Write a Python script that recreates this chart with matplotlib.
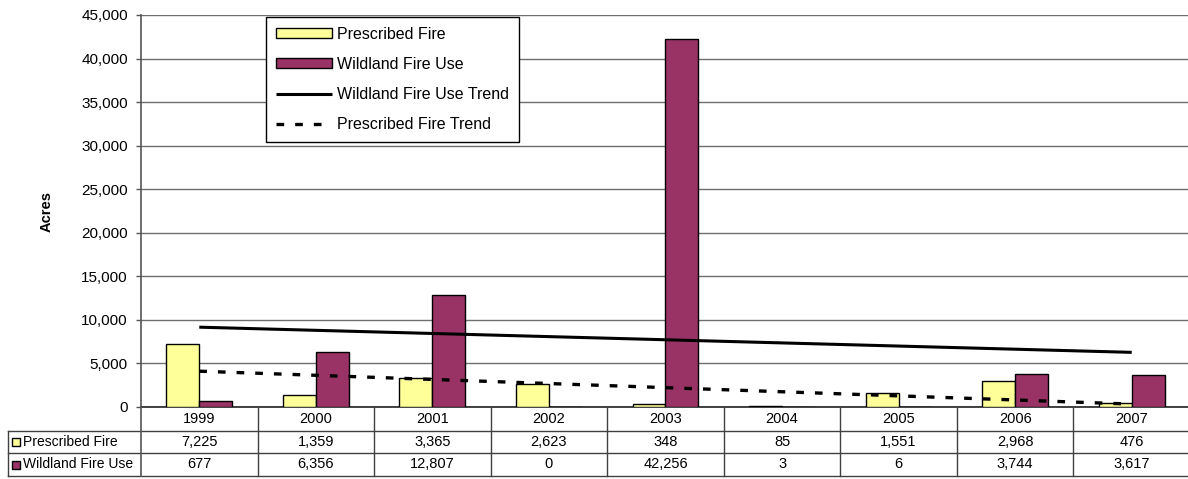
import numpy as np
import matplotlib
matplotlib.use("Agg")
import matplotlib.pyplot as plt
from matplotlib.ticker import FuncFormatter

# ---- data -------------------------------------------------------------
years = ["1999", "2000", "2001", "2002", "2003", "2004", "2005", "2006", "2007"]
prescribed_fire = [7225, 1359, 3365, 2623, 348, 85, 1551, 2968, 476]
wildland_fire_use = [677, 6356, 12807, 0, 42256, 3, 6, 3744, 3617]
series_names = ["Prescribed Fire", "Wildland Fire Use"]
trend_names = ["Wildland Fire Use Trend", "Prescribed Fire Trend"]
y_ticks = [0, 5000, 10000, 15000, 20000, 25000, 30000, 35000, 40000, 45000]

# ---- style ------------------------------------------------------------
plt.rcParams["font.family"] = ["Liberation Sans", "DejaVu Sans"]
PF_COLOR = "#FFFF99"
WFU_COLOR = "#993366"
GRID_COLOR = "#6e6e6e"
LINE_COLOR = "#404040"

W, H = 1188, 479
fig = plt.figure(figsize=(W / 100, H / 100), dpi=100)


def fx(px):
    return px / W


def fy(py):
    return 1 - py / H


# pixel frame of the plot area and the data table beneath it
left_px, right_px = 141, 1190
top_px, zero_px = 15, 407
row_px = [0, 24, 46, 69]          # table row boundaries below the zero line
table_left_px = 8

ax = fig.add_axes([fx(left_px), fy(zero_px),
                   (right_px - left_px) / W, (zero_px - top_px) / H])

x = np.arange(len(years))
bw = 0.283
b1 = ax.bar(x - bw / 2, prescribed_fire, bw, color=PF_COLOR, edgecolor="black",
            linewidth=1.0, zorder=3, label=series_names[0])
b2 = ax.bar(x + bw / 2, wildland_fire_use, bw, color=WFU_COLOR, edgecolor="black",
            linewidth=1.0, zorder=3, label=series_names[1])

# linear trend lines
wfu_fit = np.polyfit(x, wildland_fire_use, 1)
pf_fit = np.polyfit(x, prescribed_fire, 1)
l1, = ax.plot(x, np.polyval(wfu_fit, x), color="black", lw=2.2, zorder=4,
              solid_capstyle="butt", label=trend_names[0])
l2, = ax.plot(x, np.polyval(pf_fit, x), color="black", lw=2.4, zorder=4,
              linestyle=(0, (2.3, 3.3)), dash_capstyle="butt",
              label=trend_names[1])

ax.set_xlim(-0.5, len(years) - 0.5)
ax.set_ylim(0, 45000)
ax.set_xticks([])
ax.set_yticks(y_ticks)
ax.yaxis.set_major_formatter(FuncFormatter(lambda v, p: f"{int(v):,}"))
ax.tick_params(axis="y", direction="out", length=3.5, width=1.0,
               color="#555555", labelsize=11, pad=6, labelcolor="black")
ax.yaxis.grid(True, color=GRID_COLOR, linewidth=1.0, zorder=0)
ax.set_axisbelow(True)
for s in ("top", "right"):
    ax.spines[s].set_visible(False)
ax.spines["left"].set_color("#555555")
ax.spines["left"].set_linewidth(1.2)
ax.spines["bottom"].set_color("#222222")
ax.spines["bottom"].set_linewidth(1.2)

fig.text(fx(47), fy(211), "Acres", rotation=90, ha="center", va="center",
         fontsize=10.5, fontweight="bold")

leg = ax.legend(handles=[b1, b2, l1, l2],
                loc="upper left", bbox_to_anchor=(fx(266), fy(17)),
                bbox_transform=fig.transFigure, borderaxespad=0,
                fontsize=11.5, handlelength=3.55, handleheight=0.55,
                handletextpad=0.3, labelspacing=0.95, borderpad=0.6,
                fancybox=False, framealpha=1, edgecolor="black")
leg.get_frame().set_linewidth(1.0)

# ---- data table -------------------------------------------------------
tab = fig.add_axes([fx(left_px), fy(zero_px + row_px[-1]),
                    (right_px - left_px) / W, row_px[-1] / H])
tab.set_xlim(-0.5, len(years) - 0.5)
tab.set_ylim(row_px[-1], 0)
tab.axis("off")

colw = (right_px - left_px) / len(years)
xl = -0.5 - (left_px - table_left_px) / colw

for yy in row_px[1:]:
    tab.plot([xl, len(years) - 0.5], [yy, yy], color=LINE_COLOR, lw=1.0,
             clip_on=False)
for k in range(len(years) + 1):
    tab.plot([k - 0.5, k - 0.5], [0, row_px[-1]],
             color="#555555" if k == 0 else LINE_COLOR,
             lw=1.2 if k == 0 else 1.0, clip_on=False)
tab.plot([xl, xl], [row_px[1], row_px[-1]], color=LINE_COLOR, lw=1.0,
         clip_on=False)

row_mid = [(row_px[i] + row_px[i + 1]) / 2 for i in range(3)]
for i, yr in enumerate(years):
    tab.text(i, row_mid[0], yr, ha="center", va="center", fontsize=10.5)
    tab.text(i, row_mid[1], f"{prescribed_fire[i]:,}", ha="center",
             va="center", fontsize=10.5)
    tab.text(i, row_mid[2], f"{wildland_fire_use[i]:,}", ha="center",
             va="center", fontsize=10.5)

key_x = xl + (16 - table_left_px) / colw
lab_x = xl + (23 - table_left_px) / colw
for name, col, ym in zip(series_names, [PF_COLOR, WFU_COLOR], row_mid[1:]):
    tab.plot([key_x], [ym], marker="s", markersize=6, markerfacecolor=col,
             markeredgecolor="black", markeredgewidth=1.0, clip_on=False)
    tab.text(lab_x, ym, name, ha="left", va="center", fontsize=10)

fig.savefig("out.png", dpi=100)
